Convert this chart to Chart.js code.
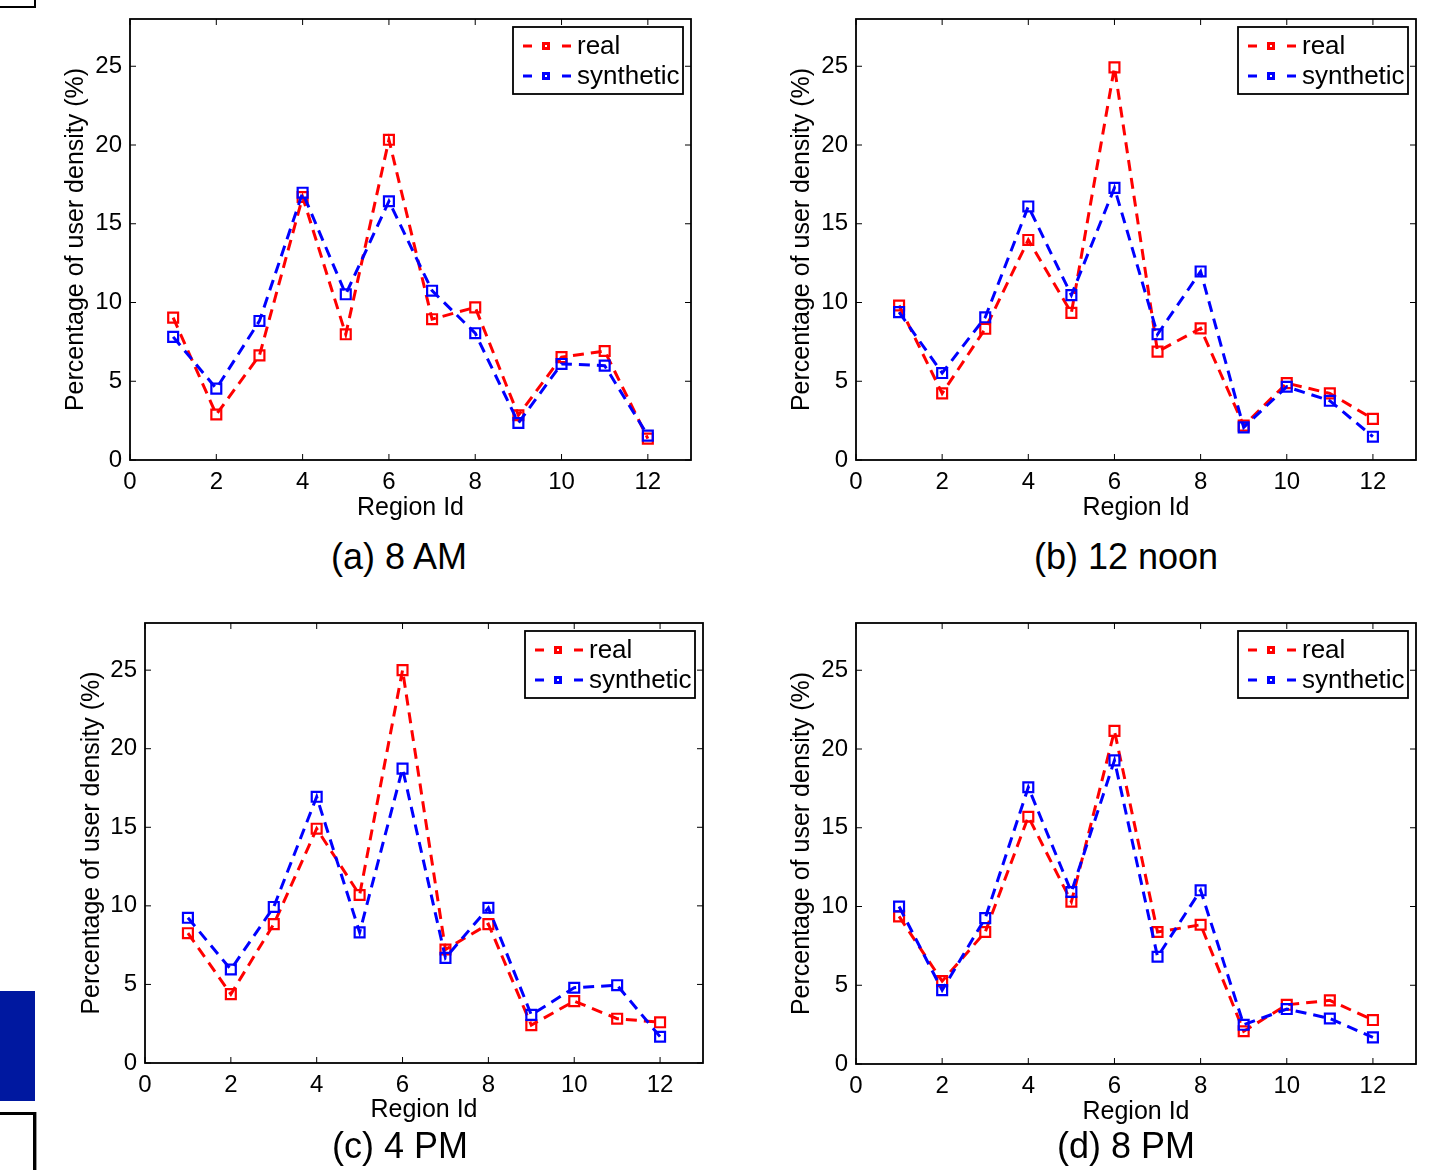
<!DOCTYPE html>
<html>
<head>
<meta charset="utf-8">
<script src="https://cdn.jsdelivr.net/npm/chart.js@4.4.1/dist/chart.umd.min.js"></script>
<style>
  body { margin: 0; background: #fff; width: 1429px; height: 1170px; position: relative; overflow: hidden; font-family: "Liberation Sans", Arial, sans-serif; }
  canvas { position: absolute; }
  .cap { position: absolute; font-size: 36px; line-height: 1; white-space: nowrap; transform: translate(-50%, -50%); color: #000; }
  .deco { position: absolute; box-sizing: border-box; }
</style>
</head>
<body>

<div class="deco" style="left:0;top:-4px;width:36px;height:12px;border:2px solid #000;border-left:none;"></div>
<div class="deco" style="left:0;top:991px;width:35px;height:110px;background:#0018a0;"></div>
<div class="deco" style="left:-3px;top:1112px;width:39px;height:70px;border:3px solid #000;border-left:none;border-bottom:none;box-shadow:1px 0 0 #999;"></div>

<canvas id="c0" width="714" height="530" style="left:0;top:0"></canvas>
<canvas id="c1" width="715" height="530" style="left:714px;top:0"></canvas>
<canvas id="c2" width="714" height="540" style="left:0;top:590px"></canvas>
<canvas id="c3" width="715" height="540" style="left:714px;top:590px"></canvas>

<div class="cap" style="left:399px;top:557px">(a) 8 AM</div>
<div class="cap" style="left:1126px;top:557px">(b) 12 noon</div>
<div class="cap" style="left:400px;top:1146px">(c) 4 PM</div>
<div class="cap" style="left:1126px;top:1146px">(d) 8 PM</div>

<script>
// data
var regionIds = [1, 2, 3, 4, 5, 6, 7, 8, 9, 10, 11, 12];
var xTicks = [0, 2, 4, 6, 8, 10, 12];
var yTicks = [0, 5, 10, 15, 20, 25];
var seriesNames = ['real', 'synthetic'];

var real8am  = [9.04, 2.89, 6.64, 16.7, 7.98, 20.33, 8.94, 9.69, 2.84, 6.53, 6.92, 1.36];
var synth8am = [7.82, 4.53, 8.83, 16.97, 10.52, 16.43, 10.75, 8.05, 2.35, 6.10, 5.99, 1.55];

var realNoon  = [9.81, 4.23, 8.33, 13.97, 9.34, 24.93, 6.88, 8.36, 2.18, 4.88, 4.23, 2.61];
var synthNoon = [9.39, 5.52, 9.06, 16.10, 10.47, 17.28, 7.98, 11.97, 2.07, 4.65, 3.76, 1.48];

var real4pm  = [8.26, 4.38, 8.84, 14.91, 10.69, 25.0, 7.22, 8.84, 2.41, 3.94, 2.82, 2.59];
var synth4pm = [9.24, 5.95, 9.93, 16.94, 8.31, 18.73, 6.69, 9.88, 3.06, 4.79, 4.95, 1.67];

var real8pm  = [9.37, 5.26, 8.38, 15.70, 10.30, 21.15, 8.38, 8.84, 2.08, 3.76, 4.04, 2.79];
var synth8pm = [10.0, 4.69, 9.26, 17.57, 10.92, 19.28, 6.81, 11.03, 2.49, 3.49, 2.89, 1.69];

var FONT = '"Liberation Sans", Arial, Helvetica, sans-serif';

// per panel layout (canvas id, plot box padding, axis sizes)
var panels = [
    { id: 'c0', real: real8am,  synth: synth8am,  top: 19, right: 23, yW: 130, xH: 70, yTitlePad: 61, xTitlePad: 7 },
    { id: 'c1', real: realNoon, synth: synthNoon, top: 19, right: 13, yW: 142, xH: 70, yTitlePad: 73, xTitlePad: 7 },
    { id: 'c2', real: real4pm,  synth: synth4pm,  top: 33, right: 11, yW: 145, xH: 67, yTitlePad: 77, xTitlePad: 5 },
    { id: 'c3', real: real8pm,  synth: synth8pm,  top: 33, right: 13, yW: 142, xH: 66, yTitlePad: 73, xTitlePad: 3 }
];

function toPoints(vals) {
    var pts = [];
    for (var i = 0; i < regionIds.length; i++) {
        pts.push({ x: regionIds[i], y: vals[i] });
    }
    return pts;
}

// matlab style box with inward ticks on all sides
var framePlugin = {
    id: 'frame',
    afterDraw: function (chart) {
        var ctx = chart.ctx, a = chart.chartArea;
        var xs = chart.scales.x, ys = chart.scales.y;
        var len = 6;
        ctx.save();
        ctx.strokeStyle = '#000';
        ctx.lineWidth = 1;
        ctx.beginPath();
        xTicks.forEach(function (v) {
            var px = xs.getPixelForValue(v);
            ctx.moveTo(px, a.bottom); ctx.lineTo(px, a.bottom - len);
            ctx.moveTo(px, a.top); ctx.lineTo(px, a.top + len);
        });
        yTicks.forEach(function (v) {
            var py = ys.getPixelForValue(v);
            ctx.moveTo(a.left, py); ctx.lineTo(a.left + len, py);
            ctx.moveTo(a.right, py); ctx.lineTo(a.right - len, py);
        });
        ctx.stroke();
        ctx.lineWidth = 1.8;
        ctx.strokeRect(a.left, a.top, a.right - a.left, a.bottom - a.top);
        ctx.restore();
    }
};

// legend box in the upper right corner
var legendPlugin = {
    id: 'boxLegend',
    afterDraw: function (chart) {
        var ctx = chart.ctx, a = chart.chartArea;
        var w = 170, h = 67;
        var left = a.right - 8 - w, top = a.top + 8;
        ctx.save();
        ctx.fillStyle = '#fff';
        ctx.fillRect(left, top, w, h);
        ctx.strokeStyle = '#000';
        ctx.lineWidth = 1.8;
        ctx.strokeRect(left, top, w, h);
        var rows = [chart.data.datasets[1], chart.data.datasets[0]];
        rows.forEach(function (ds, i) {
            var cy = top + 19 + i * 30;
            ctx.strokeStyle = ds.borderColor;
            ctx.lineWidth = 3;
            ctx.beginPath();
            ctx.moveTo(left + 10, cy); ctx.lineTo(left + 19, cy);
            ctx.moveTo(left + 49, cy); ctx.lineTo(left + 58, cy);
            ctx.stroke();
            ctx.fillStyle = ds.borderColor;
            ctx.fillRect(left + 29, cy - 4, 8, 8);
            ctx.fillStyle = '#fff';
            ctx.fillRect(left + 32, cy - 1, 2, 2);
            ctx.fillStyle = '#000';
            ctx.font = '26px ' + FONT;
            ctx.textBaseline = 'middle';
            ctx.textAlign = 'left';
            ctx.fillText(ds.label, left + 64, cy + 1);
        });
        ctx.restore();
    }
};

function makeSet(label, vals, color, order) {
    return {
        label: label,
        data: toPoints(vals),
        borderColor: color,
        backgroundColor: 'rgba(0,0,0,0)',
        borderWidth: 3,
        borderDash: [11, 7],
        tension: 0,
        pointStyle: 'rect',
        pointRadius: 7,
        pointBorderWidth: 2.2,
        pointBorderColor: color,
        pointBackgroundColor: 'rgba(0,0,0,0)',
        order: order
    };
}

panels.forEach(function (p) {
    var ctx = document.getElementById(p.id).getContext('2d');
    new Chart(ctx, {
        type: 'line',
        data: {
            datasets: [
                makeSet(seriesNames[1], p.synth, 'rgb(0,0,255)', 1),
                makeSet(seriesNames[0], p.real, 'rgb(255,0,0)', 2)
            ]
        },
        options: {
            responsive: false,
            animation: false,
            devicePixelRatio: 1,
            layout: { padding: { top: p.top, right: p.right, left: 0, bottom: 0 } },
            plugins: { legend: { display: false }, tooltip: { enabled: false } },
            scales: {
                x: {
                    type: 'linear',
                    min: 0,
                    max: 13,
                    grid: { display: false },
                    border: { display: false },
                    afterBuildTicks: function (s) { s.ticks = xTicks.map(function (v) { return { value: v }; }); },
                    afterFit: function (s) { s.height = p.xH; },
                    ticks: { font: { family: FONT, size: 24 }, color: '#000', padding: 0, maxRotation: 0 },
                    title: { display: true, text: 'Region Id', color: '#000', font: { family: FONT, size: 25 }, padding: { top: 0, bottom: p.xTitlePad } }
                },
                y: {
                    type: 'linear',
                    min: 0,
                    max: 28,
                    grid: { display: false },
                    border: { display: false },
                    afterBuildTicks: function (s) { s.ticks = yTicks.map(function (v) { return { value: v }; }); },
                    afterFit: function (s) { s.width = p.yW; },
                    ticks: { font: { family: FONT, size: 24 }, color: '#000', padding: 0 },
                    title: { display: true, text: 'Percentage of user density (%)', color: '#000', font: { family: FONT, size: 25 }, padding: { top: p.yTitlePad, bottom: 0 } }
                }
            }
        },
        plugins: [framePlugin, legendPlugin]
    });
});
</script>
</body>
</html>
